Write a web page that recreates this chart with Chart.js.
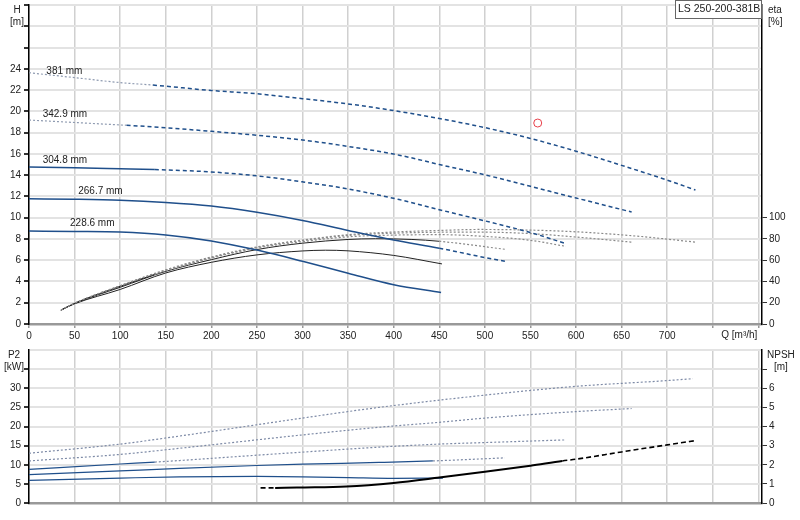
<!DOCTYPE html>
<html lang="en">
<head>
<meta charset="UTF-8" />
<title>LS 250-200-381B</title>
<script src="https://cdn.jsdelivr.net/npm/chart.js"></script>
<style>
  body { margin: 0; background: #fff; }
  #wrap { position: relative; width: 800px; height: 520px; }
  #top { position: absolute; left: 0; top: 0; }
  #bottom { position: absolute; left: 0; top: 345px; }
</style>
</head>
<body>
<div id="wrap">
  <canvas id="top" width="800" height="345"></canvas>
  <canvas id="bottom" width="800" height="175"></canvas>
</div>
<script>
// impeller diameters, label anchors [text, Q, H]
const curveLabels = [
  ["381 mm", 19, 23.8],
  ["342.9 mm", 15, 19.7],
  ["304.8 mm", 15, 15.4],
  ["266.7 mm", 54, 12.45],
  ["228.6 mm", 45, 9.5],
];

// H [m] vs Q [m3/h]
const head381 = [[0,23.63],[50,23.17],[100,22.7],[136,22.47],[200,21.96],[250,21.65],[300,21.19],[350,20.7],[400,20.07],[450,19.33],[500,18.47],[550,17.45],[600,16.25],[650,14.92],[700,13.53],[731,12.6]];
const head343 = [[0,19.18],[50,18.95],[100,18.72],[107,18.69],[150,18.45],[200,18.12],[250,17.75],[300,17.3],[350,16.7],[406,15.88],[450,15.0],[500,14.03],[550,12.95],[600,11.85],[650,10.77],[661,10.53]];
const head305 = [[0,14.76],[50,14.7],[100,14.6],[138,14.52],[200,14.3],[250,13.93],[300,13.37],[350,12.7],[406,11.7],[450,10.75],[500,9.7],[550,8.6],[589,7.56]];
const head267 = [[0,11.77],[50,11.73],[100,11.64],[150,11.43],[200,11.09],[250,10.5],[300,9.73],[350,8.8],[400,7.9],[450,7.13],[500,6.25],[522,5.9]];
const head229 = [[0,8.74],[50,8.71],[100,8.65],[150,8.37],[200,7.81],[250,6.95],[300,5.9],[350,4.78],[400,3.7],[452,2.97]];

// eta [%] vs Q
const eta381 = [[35,13],[50,19.5],[100,36],[150,51],[200,63],[250,72.5],[300,79],[350,84],[400,86.5],[450,88],[494,88.9],[550,88.3],[600,86.7],[666,82.7],[731,77]];
const eta343 = [[35,13],[50,19.5],[100,36],[150,50.5],[200,62.5],[250,72],[300,78.5],[350,83.3],[400,85.4],[450,86.3],[494,86.4],[550,85],[600,81.8],[661,77]];
const eta305 = [[35,13],[50,19.5],[100,35.5],[138,46.7],[150,50],[200,62],[250,71.5],[300,77.5],[350,82],[400,83.6],[450,84],[494,82.7],[550,78.7],[589,73]];
const eta267 = [[35,13],[50,19.3],[100,34.5],[150,49.5],[200,60.5],[250,70],[300,76],[350,79.5],[380,80.2],[420,79.5],[450,77.8],[522,70.3]];
const eta229 = [[35,13],[50,19],[100,32.5],[150,48],[200,58],[250,65],[300,68.7],[325,69.4],[350,68.8],[400,64.5],[453,56.5]];

// P2 [kW] vs Q
const p2_381 = [[0,13.0],[100,15.4],[165,17.5],[200,18.7],[300,22.2],[384,25.0],[500,28.2],[600,30.5],[700,32.0],[728,32.5]];
const p2_343 = [[0,11.0],[100,12.7],[165,14.3],[200,15.2],[300,17.8],[384,19.8],[450,21.1],[500,22.2],[600,23.9],[661,24.7]];
const p2_305 = [[0,8.8],[100,10.2],[138,10.7],[165,11.1],[250,12.5],[300,13.3],[384,14.6],[450,15.4],[500,15.8],[589,16.5]];
const p2_267 = [[0,7.4],[100,8.4],[165,9.05],[250,9.8],[300,10.15],[384,10.6],[443,11.0],[522,11.8]];
const p2_229 = [[0,5.9],[100,6.5],[165,6.84],[250,6.95],[300,6.85],[350,6.65],[400,6.45],[454,6.5]];

// NPSH [m] vs Q
const npsh = [[254,0.79],[270,0.79],[300,0.81],[348,0.86],[400,1.05],[450,1.33],[500,1.63],[550,1.95],[585,2.2],[600,2.29],[650,2.67],[700,3.04],[731,3.26]];

// duty point [Q, H]
const dutyPoint = [[558, 18.9]];

// axis ranges / tick steps
const qMax = 804, qStep = 50, qLabelMax = 700;
const hMax = 30, hStep = 2, hLabelMax = 24;
const etaMax = 300, etaStep = 20, etaLabelMax = 100;
const pMax = 40, pStep = 5, pLabelMax = 30, pTickMax = 35;
const nMax = 8, nLabelMax = 6, nTickMax = 7;

const FONT = '"Liberation Sans", Arial, sans-serif';
Chart.defaults.font.family = FONT;
Chart.defaults.font.size = 10;
Chart.defaults.color = "#222";

const navy = "#1f4f8b";
const S = {
  solid:   { color: navy, dash: [], width: 1.5 },
  dashed:  { color: navy, dash: [4, 3], width: 1.5 },
  dotted:  { color: "#8e9ab0", dash: [2, 2], width: 1.2 },
  eSolid:  { color: "#222", dash: [], width: 1 },
  eDotted: { color: "#8a8a8a", dash: [2, 2], width: 1.2 },
  pSolid:  { color: navy, dash: [], width: 1.2 },
  pDotted: { color: "#7d8aa6", dash: [2, 2], width: 1.2 },
  nSolid:  { color: "#000", dash: [], width: 2 },
  nDashed: { color: "#000", dash: [5, 3], width: 1.6 },
};

// runs: [[fromQ, style], ...]
function curve(points, runs, yAxisID) {
  const pick = (c) => {
    let s = runs[0][1];
    for (const [q, st] of runs) if (c.p0.parsed.x >= q) s = st;
    return s;
  };
  const first = runs[0][1];
  return {
    data: points.map(([x, y]) => ({ x, y })),
    yAxisID: yAxisID,
    showLine: true,
    pointRadius: 0,
    fill: false,
    cubicInterpolationMode: "monotone",
    borderColor: first.color,
    borderWidth: first.width,
    borderDash: first.dash,
    segment: {
      borderColor: (c) => pick(c).color,
      borderDash: (c) => pick(c).dash,
      borderWidth: (c) => pick(c).width,
    },
  };
}

// fixed axis sizes, no extra label padding
const fixWidth = (w) => (s) => {
  s.width = w;
  s.paddingTop = 0;
  s.paddingBottom = 0;
};

const xScale = (showLabels) => ({
  type: "linear",
  min: 0,
  max: qMax,
  afterFit: (s) => { s.height = showLabels ? 21 : 17; },
  ticks: {
    display: showLabels,
    stepSize: qStep,
    includeBounds: false,
    autoSkip: false,
    maxRotation: 0,
    padding: 2,
    callback: (v) => (v <= qLabelMax ? v : ""),
  },
  grid: { color: "#d0d0d0", lineWidth: 1.5, drawTicks: showLabels, tickLength: 4, tickColor: "#999" },
  border: { color: "#999", width: 2.5 },
});

const topDecor = {
  id: "topDecor",
  afterDraw(chart) {
    const { ctx, chartArea: a, scales } = chart;
    ctx.save();
    ctx.font = "10px " + FONT;
    ctx.fillStyle = "#222";
    ctx.textBaseline = "middle";
    ctx.textAlign = "left";
    curveLabels.forEach(([t, q, h]) => {
      ctx.fillText(t, scales.x.getPixelForValue(q), scales.y.getPixelForValue(h));
    });
    ctx.textAlign = "center";
    ctx.fillText("H", a.left - 12, a.top + 5);
    ctx.fillText("[m]", a.left - 12, a.top + 17);
    ctx.textAlign = "left";
    ctx.fillText("eta", a.right + 6, a.top + 5);
    ctx.fillText("[%]", a.right + 6, a.top + 17);
    ctx.textAlign = "right";
    ctx.fillText("Q [m\u00b3/h]", scales.x.getPixelForValue(800) - 1, a.bottom + 11);
    // legend box
    const bx = a.right - 87;
    ctx.fillStyle = "#fff";
    ctx.fillRect(bx, 0, 87, 19);
    ctx.strokeStyle = "#666";
    ctx.lineWidth = 1;
    ctx.strokeRect(bx + 0.5, 0.5, 86, 18);
    ctx.fillStyle = "#222";
    ctx.textAlign = "left";
    ctx.font = "10.5px " + FONT;
    ctx.fillText("LS 250-200-381B", bx + 3, 9.5);
    ctx.restore();
  },
};

const bottomDecor = {
  id: "bottomDecor",
  afterDraw(chart) {
    const { ctx, chartArea: a } = chart;
    ctx.save();
    ctx.font = "10px " + FONT;
    ctx.fillStyle = "#222";
    ctx.textBaseline = "middle";
    ctx.textAlign = "center";
    ctx.fillText("P2", a.left - 15, a.top + 5);
    ctx.fillText("[kW]", a.left - 15, a.top + 17);
    ctx.textAlign = "left";
    ctx.fillText("NPSH", a.right + 5, a.top + 5);
    ctx.fillText("[m]", a.right + 12, a.top + 17);
    ctx.restore();
  },
};

new Chart(document.getElementById("top"), {
  type: "scatter",
  data: {
    datasets: [
      {
        data: dutyPoint.map(([x, y]) => ({ x, y })),
        yAxisID: "y",
        pointRadius: 4,
        pointStyle: "circle",
        borderColor: "#e8404a",
        backgroundColor: "rgba(0,0,0,0)",
        borderWidth: 1,
        showLine: false,
      },
      curve(head381, [[0, S.dotted], [136, S.dashed]], "y"),
      curve(head343, [[0, S.dotted], [107, S.dashed]], "y"),
      curve(head305, [[0, S.solid], [138, S.dashed]], "y"),
      curve(head267, [[0, S.solid], [450, S.dashed]], "y"),
      curve(head229, [[0, S.solid]], "y"),
      curve(eta381, [[0, S.eDotted]], "eta"),
      curve(eta343, [[0, S.eDotted]], "eta"),
      curve(eta305, [[0, S.eSolid], [138, S.eDotted]], "eta"),
      curve(eta267, [[0, S.eSolid], [450, S.eDotted]], "eta"),
      curve(eta229, [[0, S.eSolid]], "eta"),
    ],
  },
  options: {
    responsive: false,
    animation: false,
    devicePixelRatio: 1,
    layout: { padding: { top: 0, left: 0, right: 0, bottom: 0 } },
    plugins: { legend: { display: false }, tooltip: { enabled: false } },
    scales: {
      x: xScale(true),
      y: {
        type: "linear",
        position: "left",
        min: 0,
        max: hMax,
        afterFit: fixWidth(29),
        ticks: { stepSize: hStep, padding: 3, callback: (v) => (v <= hLabelMax ? v : "") },
        grid: { color: "#e3e3e3", lineWidth: 2, tickLength: 5, tickColor: "#333" },
        border: { color: "#000", width: 1.5 },
      },
      eta: {
        type: "linear",
        position: "right",
        min: 0,
        max: etaMax,
        afterFit: fixWidth(38),
        afterBuildTicks: (s) => { s.ticks = s.ticks.filter((t) => t.value <= etaLabelMax); },
        ticks: { stepSize: etaStep, padding: 2 },
        grid: { drawOnChartArea: false, tickLength: 5, tickColor: "#333" },
        border: { color: "#000", width: 1.5 },
      },
    },
  },
  plugins: [topDecor],
});

new Chart(document.getElementById("bottom"), {
  type: "scatter",
  data: {
    datasets: [
      curve(npsh, [[0, S.nDashed], [270, S.nSolid], [585, S.nDashed]], "npsh"),
      curve(p2_381, [[0, S.pDotted]], "p2"),
      curve(p2_343, [[0, S.pDotted]], "p2"),
      curve(p2_305, [[0, S.pSolid], [138, S.pDotted]], "p2"),
      curve(p2_267, [[0, S.pSolid], [443, S.pDotted]], "p2"),
      curve(p2_229, [[0, S.pSolid]], "p2"),
    ],
  },
  options: {
    responsive: false,
    animation: false,
    devicePixelRatio: 1,
    layout: { padding: { top: 5, left: 0, right: 0, bottom: 0 } },
    plugins: { legend: { display: false }, tooltip: { enabled: false } },
    scales: {
      x: xScale(false),
      p2: {
        type: "linear",
        position: "left",
        min: 0,
        max: pMax,
        afterFit: fixWidth(29),
        ticks: { stepSize: pStep, padding: 3, callback: (v) => (v <= pLabelMax ? v : "") },
        grid: {
          color: "#e3e3e3",
          lineWidth: 2,
          tickLength: 5,
          tickColor: (c) => (c.tick && c.tick.value > pTickMax ? "rgba(0,0,0,0)" : "#333"),
        },
        border: { color: "#000", width: 1.5 },
      },
      npsh: {
        type: "linear",
        position: "right",
        min: 0,
        max: nMax,
        afterFit: fixWidth(38),
        afterBuildTicks: (s) => { s.ticks = s.ticks.filter((t) => t.value <= nTickMax); },
        ticks: { stepSize: 1, padding: 2, callback: (v) => (v <= nLabelMax ? v : "") },
        grid: { drawOnChartArea: false, tickLength: 5, tickColor: "#333" },
        border: { color: "#000", width: 1.5 },
      },
    },
  },
  plugins: [bottomDecor],
});
</script>
</body>
</html>
